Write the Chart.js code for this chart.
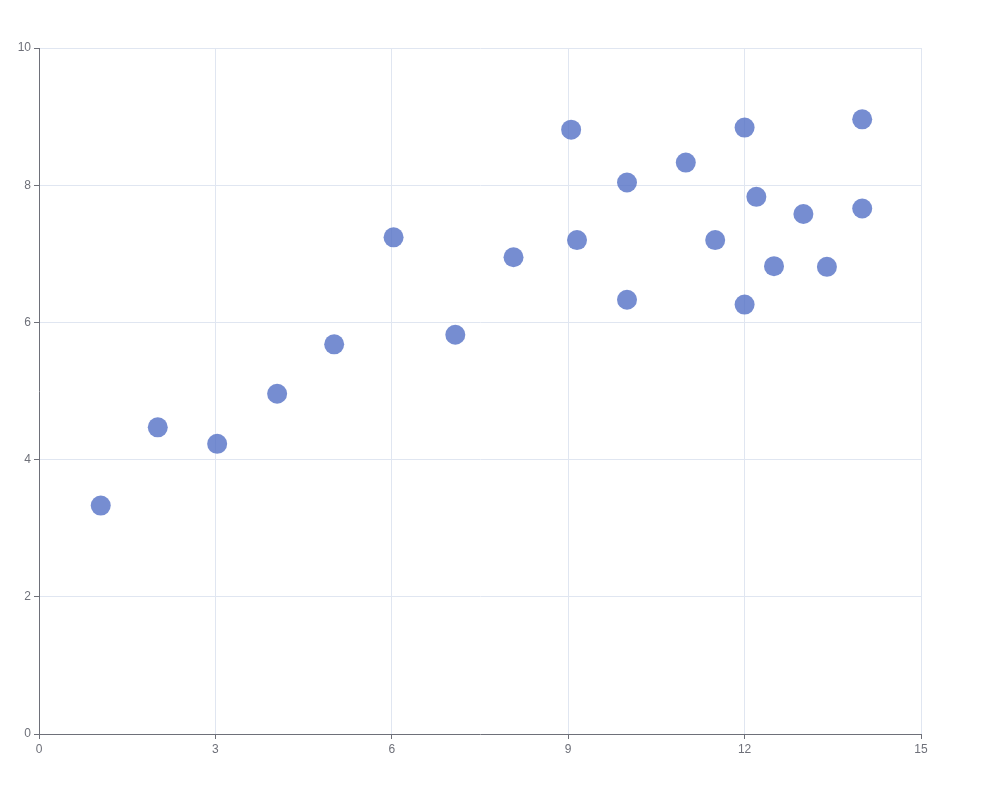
<!DOCTYPE html>
<html>
<head>
<meta charset="utf-8">
<script src="https://cdn.jsdelivr.net/npm/chart.js@4/dist/chart.umd.min.js"></script>
<style>
  html, body { margin: 0; padding: 0; background: #fff; }
  #wrap { width: 985px; height: 788px; }
</style>
</head>
<body>
<div id="wrap"><canvas id="chart"></canvas></div>
<script>
// x / y pairs
const xValues = [10.0, 8.07, 13.0, 9.05, 11.0, 14.0, 13.4, 10.0, 14.0, 12.5, 9.15,
  11.5, 3.03, 12.2, 2.02, 1.05, 4.05, 6.03, 12.0, 12.0, 7.08, 5.02];
const yValues = [8.04, 6.95, 7.58, 8.81, 8.33, 7.66, 6.81, 6.33, 8.96, 6.82, 7.2,
  7.2, 4.23, 7.83, 4.47, 3.33, 4.96, 7.24, 6.26, 8.84, 5.82, 5.68];
const xTicks = [0, 3, 6, 9, 12, 15];
const yTicks = [0, 2, 4, 6, 8, 10];

const points = xValues.map((x, i) => ({ x: x, y: yValues[i] }));

const axisColor = '#6E7079';
const gridColor = '#E0E6F1';

new Chart(document.getElementById('chart'), {
  type: 'scatter',
  data: {
    datasets: [{
      data: points,
      backgroundColor: 'rgba(84,112,198,0.8)',
      borderWidth: 0,
      pointRadius: 10,
      pointHoverRadius: 10
    }]
  },
  options: {
    responsive: true,
    maintainAspectRatio: false,
    animation: false,
    events: [],
    layout: { padding: { top: 48, right: 64, left: 0, bottom: 0 } },
    plugins: { legend: { display: false }, tooltip: { enabled: false } },
    scales: {
      x: {
        type: 'linear',
        min: 0,
        max: 15,
        afterBuildTicks: s => { s.ticks = xTicks.map(v => ({ value: v })); },
        afterFit: s => { s.height = 54; },
        border: { color: axisColor, width: 1 },
        grid: {
          color: c => c.tick && c.tick.value === 0 ? 'rgba(0,0,0,0)' : gridColor,
          tickColor: axisColor,
          tickLength: 5
        },
        ticks: { color: axisColor, padding: 3, font: { size: 12, family: 'sans-serif' } }
      },
      y: {
        type: 'linear',
        min: 0,
        max: 10,
        afterBuildTicks: s => { s.ticks = yTicks.map(v => ({ value: v })); },
        afterFit: s => { s.width = 39; },
        border: { color: axisColor, width: 1 },
        grid: {
          color: c => c.tick && c.tick.value === 0 ? 'rgba(0,0,0,0)' : gridColor,
          tickColor: axisColor,
          tickLength: 5
        },
        ticks: { color: axisColor, padding: 3, font: { size: 12, family: 'sans-serif' } }
      }
    }
  }
});
</script>
</body>
</html>
